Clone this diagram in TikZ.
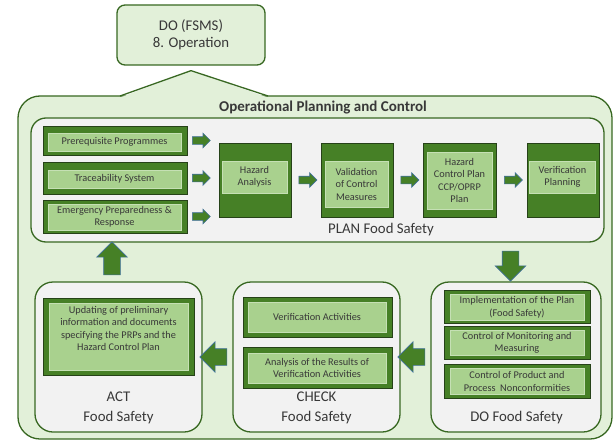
\documentclass[tikz,border=0pt]{standalone}
\usepackage{fontspec}
\setmainfont{Carlito}
\usetikzlibrary{shapes.arrows, calc}

\definecolor{fsline}{RGB}{56,104,34}
\definecolor{fsdark}{RGB}{70,128,38}
\definecolor{fsedge}{RGB}{38,66,24}
\definecolor{fslight}{RGB}{169,209,142}
\definecolor{fslightedge}{RGB}{197,224,180}
\definecolor{fspale}{RGB}{226,240,217}
\definecolor{fsgray}{RGB}{242,242,242}
\definecolor{fsblue}{RGB}{65,113,156}

\begin{document}
\begin{tikzpicture}[x=1pt, y=-1pt,
  every node/.style={text=black!78},
  grey box/.style={draw=fsline, fill=fsgray, line width=1.3pt, rounded corners=18pt, inner sep=0pt},
  dark box/.style={draw=fsedge, fill=fsdark, line width=0.8pt, inner sep=0pt},
  light box/.style={draw=fslightedge, fill=fslight, line width=0.6pt, inner sep=0pt, align=center, font=\fontsize{10.3}{12.5}\selectfont},
  small arrow/.style={single arrow, draw=fsblue, fill=fsdark, line width=0.6pt, inner sep=3.5pt, single arrow head extend=3.5pt, minimum height=18pt},
  big arrow/.style={single arrow, draw=fsblue, fill=fsdark, line width=0.6pt, inner sep=8pt, single arrow head extend=7pt, minimum height=30pt},
  phase/.style={align=center, font=\fontsize{14.8}{20}\selectfont}]
  \useasboundingbox (0,0) rectangle (615,441);

  % operational planning and control frame with pointer
  \draw[fill=fspale, draw=fsline, line width=1.3pt, rounded corners=22pt] (18,96) rectangle (612,439);
  \node[draw=fsline, fill=fspale, line width=1.3pt, rounded corners=8pt, minimum width=148pt, minimum height=60pt, align=center, font=\fontsize{14.8}{17}\selectfont] (fsms) at (191,35) {DO (FSMS)\\8. Operation};
  \coordinate (tip) at ([yshift=-5pt]fsms.south);
  \fill[fspale] (120,97.6) -- (tip) -- (268,97.6) -- cycle;
  \draw[fsline, line width=1.3pt, line join=round] (120,96) -- (tip) -- (268,96);
  \node[font=\fontsize{15}{18}\selectfont\bfseries] (opc) at (323,107) {Operational Planning and Control};

  % plan
  \node[grey box, rounded corners=15pt, minimum width=573pt, minimum height=124pt] (plan) at (317.5,180) {};
  \node[phase] (plan-txt) at (381,230) {PLAN Food Safety};

  \node[dark box, minimum width=144pt, minimum height=29pt] (pre) at (115,140.5) {};
  \node[light box, minimum width=133pt, minimum height=18pt] (pre-in) at (114.5,142) {Prerequisite Programmes};
  \node[dark box, minimum width=144pt, minimum height=32pt] (tra) at (115,178) {};
  \node[light box, minimum width=133pt, minimum height=18pt] (tra-in) at (114.5,179) {Traceability System};
  \node[dark box, minimum width=144pt, minimum height=33pt] (eme) at (115,216.5) {};
  \node[light box, minimum width=133pt, minimum height=26pt] (eme-in) at (114.5,217) {Emergency Preparedness \&\\Response};

  \node[dark box, minimum width=72pt, minimum height=74pt] (ha) at (255,180) {};
  \node[light box, minimum width=65pt, minimum height=32pt] (ha-in) at (254.5,177) {Hazard\\Analysis};
  \node[dark box, minimum width=72pt, minimum height=74pt] (val) at (357,180) {};
  \node[light box, minimum width=63pt, minimum height=46pt] (val-in) at (356.5,184) {Validation\\of Control\\Measures};
  \node[dark box, minimum width=73pt, minimum height=74pt] (hcp) at (459.5,180) {};
  \node[light box, minimum width=65pt, minimum height=57pt] (hcp-in) at (459.5,180.5) {Hazard\\Control Plan\\CCP/OPRP\\Plan};
  \node[dark box, minimum width=72pt, minimum height=74pt] (vp) at (563,180) {};
  \node[light box, minimum width=66pt, minimum height=32pt] (vp-in) at (562.5,177) {Verification\\Planning};

  \node[small arrow] at ([xshift=12pt]pre.east) {};
  \node[small arrow] at ([xshift=12pt]tra.east) {};
  \node[small arrow] at ([xshift=12pt]eme.east) {};
  \node[small arrow] at ($(ha.east)!0.5!(val.west)$) {};
  \node[small arrow] at ($(val.east)!0.5!(hcp.west)$) {};
  \node[small arrow] at ($(hcp.east)!0.5!(vp.west)$) {};

  % do
  \node[grey box, minimum width=170pt, minimum height=150pt] (do) at (516,357) {};
  \node[phase] (do-txt) at (516.5,418) {DO Food Safety};
  \node[dark box, minimum width=146pt, minimum height=33pt] (ip) at (517,307) {};
  \node[light box, minimum width=134pt, minimum height=26pt] (ip-in) at (517,307.5) {Implementation of the Plan\\(Food Safety)};
  \node[dark box, minimum width=146pt, minimum height=33pt] (cm) at (517,343) {};
  \node[light box, minimum width=134pt, minimum height=25pt] (cm-in) at (517,343) {Control of Monitoring and\\Measuring};
  \node[dark box, minimum width=146pt, minimum height=34pt] (cp) at (517,381.5) {};
  \node[light box, minimum width=134pt, minimum height=26pt] (cp-in) at (517,381.5) {Control of Product and\\Process\ \ Nonconformities};

  % check
  \node[grey box, minimum width=167pt, minimum height=150pt] (check) at (316.5,357) {};
  \node[phase] (check-txt) at (316.5,408) {CHECK\\Food Safety};
  \node[dark box, minimum width=149pt, minimum height=40pt] (va) at (317.5,317) {};
  \node[light box, minimum width=138pt, minimum height=30pt] (va-in) at (317,317) {Verification Activities};
  \node[dark box, minimum width=149pt, minimum height=41pt] (ar) at (317.5,367.5) {};
  \node[light box, minimum width=138pt, minimum height=30pt] (ar-in) at (317,368) {Analysis of the Results of\\Verification Activities};

  % act
  \node[grey box, minimum width=167pt, minimum height=150pt] (act) at (118.5,357) {};
  \node[phase] (act-txt) at (118.5,408) {ACT\\Food Safety};
  \node[dark box, minimum width=151pt, minimum height=77pt] (upd) at (118.5,336.5) {};
  \node[light box, minimum width=139pt, minimum height=67pt] (upd-in) at (118.5,336.5) {};
  \node[light box, draw=none, fill=none, anchor=north] (upd-txt) at ([yshift=-3pt]upd-in.north) {Updating of preliminary\\information and documents\\specifying the PRPs and the\\Hazard Control Plan};

  % cycle arrows
  \node[big arrow, shape border rotate=270] at (510.5,262) {};
  \node[big arrow, shape border rotate=180, minimum height=27pt] at ($(do.west)!0.5!(check.east)$) {};
  \node[big arrow, shape border rotate=180, minimum height=27pt] at ($(check.west)!0.5!(act.east)$) {};
  \node[big arrow, shape border rotate=90, minimum height=33pt] at (112,262.5) {};
\end{tikzpicture}
\end{document}
